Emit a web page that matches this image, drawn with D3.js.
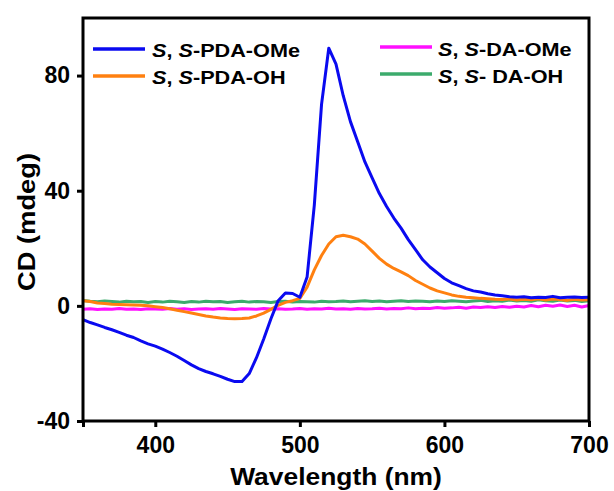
<!DOCTYPE html>
<html>
<head>
<meta charset="utf-8">
<script src="https://cdn.jsdelivr.net/npm/d3@7"></script>
<style>
  body { margin: 0; background: #fff; }
  text { font-family: "Liberation Sans", Arial, sans-serif; font-weight: bold; }
</style>
</head>
<body>
<svg id="chart"></svg>
<script>
// wavelength grid (nm), 5 nm steps
const wavelengths = d3.range(350, 701, 5);

const pdaOMe = [-4.8, -5.8, -6.6, -7.5, -8.3, -9.2, -10.2, -11.0, -12.2, -13.2,
  -14.0, -15.0, -16.2, -17.5, -19.0, -20.5, -21.8, -22.8, -23.6, -24.5,
  -25.5, -26.3, -26.3, -23.5, -18.0, -11.5, -4.5, 1.8, 4.5, 4.3,
  3.0, 10.0, 35.0, 70.0, 89.5, 84.0, 73.0, 64.0, 57.0, 50.0,
  44.5, 39.0, 34.5, 30.5, 27.0, 23.0, 19.5, 16.0, 13.5, 11.5,
  9.5, 8.0, 7.0, 6.0, 5.2, 4.8, 4.2, 3.8, 3.5, 3.2,
  3.0, 3.2, 2.8, 3.0, 2.9, 3.3, 2.8, 3.0, 3.1, 2.9, 3.0];

const pdaOH = [1.8, 1.5, 1.0, 0.8, 0.6, 0.5, 0.4, 0.3, 0.2, 0.0,
  -0.3, -0.6, -1.0, -1.5, -2.0, -2.5, -3.0, -3.5, -3.9, -4.2,
  -4.4, -4.5, -4.4, -4.2, -3.5, -2.5, -1.2, 0.2, 1.2, 1.8,
  2.6, 6.5, 12.5, 17.5, 21.5, 24.0, 24.5, 24.0, 23.2, 21.5,
  19.0, 16.5, 14.5, 13.0, 11.8, 10.5, 8.8, 7.5, 6.2, 5.2,
  4.5, 3.8, 3.3, 3.0, 2.8, 2.6, 2.5, 2.3, 2.2, 2.4,
  2.0, 2.3, 2.1, 2.5, 2.0, 2.4, 2.2, 1.9, 2.3, 2.0, 2.1];

const daOMe = [-1.2, -1.0, -1.3, -1.1, -1.2, -0.9, -1.2, -1.1, -1.3, -1.0,
  -1.1, -1.2, -0.9, -1.2, -1.0, -1.3, -1.1, -1.0, -1.2, -0.9,
  -1.1, -1.3, -1.0, -1.1, -1.2, -0.9, -1.1, -1.0, -1.2, -1.1,
  -0.9, -1.2, -1.0, -1.1, -0.8, -1.1, -1.0, -1.2, -0.9, -1.1,
  -1.0, -0.8, -1.1, -0.9, -1.0, -0.7, -1.0, -0.8, -0.9, -0.6,
  -0.8, -0.7, -0.5, -0.8, -0.4, -0.6, -0.3, -0.6, -0.2, -0.5,
  -0.1, -0.4, 0.1, -0.3, 0.2, -0.1, 0.3, -0.2, 0.2, -0.4, 0.1];

const daOH = [1.9, 1.6, 1.4, 1.7, 1.5, 1.3, 1.6, 1.4, 1.5, 1.2,
  1.5, 1.3, 1.6, 1.4, 1.2, 1.5, 1.3, 1.6, 1.4, 1.5,
  1.2, 1.4, 1.6, 1.3, 1.5, 1.4, 1.2, 1.5, 1.6, 1.3,
  1.5, 1.4, 1.3, 1.6, 1.4, 1.5, 1.7, 1.4, 1.6, 1.8,
  1.5, 1.7, 1.4, 1.6, 1.8, 1.5, 1.7, 1.6, 1.4, 1.7,
  1.5, 1.8, 1.6, 1.4, 1.7, 1.9, 1.5, 1.8, 1.6, 2.0,
  1.7, 1.9, 1.6, 2.1, 1.8, 1.6, 2.0, 1.7, 1.9, 1.5, 1.8];

const seriesNames = ["PDA-OMe", "PDA-OH", "DA-OMe", " DA-OH"];
const seriesColors = ["#0a0af0", "#ff8010", "#ff10ff", "#3cab6c"];
const seriesValues = [pdaOMe, pdaOH, daOMe, daOH];

const xTicks = [400, 500, 600, 700];
const yTicks = [-40, 0, 40, 80];

let W = 614, H = 491;
let margin = {top: 18, right: 25, bottom: 70, left: 83};
let width = W - margin.left - margin.right;
let height = H - margin.top - margin.bottom;

let svg = d3.select("#chart")
  .attr("width", W)
  .attr("height", H);

let g = svg.append("g")
  .attr("transform", "translate(" + margin.left + "," + margin.top + ")");

let x = d3.scaleLinear().domain([350, 700]).range([0, width]);
let y = d3.scaleLinear().domain([-40, 100]).range([height, 0]);

let line = d3.line()
  .x(function(d) { return x(d[0]); })
  .y(function(d) { return y(d[1]); });

// draw order: magenta, green, orange, blue on top
[2, 3, 1, 0].forEach(function(i) {
  let pts = wavelengths.map(function(w, k) { return [w, seriesValues[i][k]]; });
  g.append("path")
    .datum(pts)
    .attr("fill", "none")
    .attr("stroke", seriesColors[i])
    .attr("stroke-width", 3)
    .attr("stroke-linejoin", "round")
    .attr("d", line);
});

// frame
g.append("rect")
  .attr("width", width)
  .attr("height", height)
  .attr("fill", "none")
  .attr("stroke", "#000")
  .attr("stroke-width", 3);

// x axis
let xAxis = g.append("g")
  .attr("transform", "translate(0," + height + ")")
  .call(d3.axisBottom(x).tickValues([350].concat(xTicks)).tickSize(6).tickPadding(10)
    .tickFormat(function(d) { return d == 350 ? "" : String(d); }));
xAxis.select(".domain").remove();
xAxis.selectAll("line").attr("stroke-width", 3);
xAxis.selectAll("text").attr("font-size", 23).attr("fill", "#000")
  .style("font-family", "Liberation Sans, Arial, sans-serif").style("font-weight", "bold");

// y axis (plain hyphen for negatives, like the original)
let yAxis = g.append("g")
  .call(d3.axisLeft(y).tickValues(yTicks).tickSize(6).tickPadding(7)
    .tickFormat(function(d) { return String(d); }));
yAxis.select(".domain").remove();
yAxis.selectAll("line").attr("stroke-width", 3);
yAxis.selectAll("text").attr("font-size", 23).attr("fill", "#000")
  .style("font-family", "Liberation Sans, Arial, sans-serif").style("font-weight", "bold");

// axis titles (reference text is a bit wider than the font, so stretch it)
svg.append("text")
  .attr("transform", "translate(" + (margin.left + width / 2) + ",485) scale(1.1,1)")
  .attr("text-anchor", "middle")
  .attr("font-size", 24)
  .text("Wavelength (nm)");

svg.append("text")
  .attr("transform", "translate(35,222) rotate(-90) scale(1.14,1)")
  .attr("text-anchor", "middle")
  .attr("font-size", 24)
  .text("CD (mdeg)");

// legend
let legendPos = [[93, 49], [93, 76], [380, 47], [380, 74]];
let legendText = [[152, 57], [152, 84], [438, 56], [438, 83]];
seriesNames.forEach(function(name, i) {
  let p = legendPos[i];
  svg.append("line")
    .attr("x1", p[0]).attr("x2", p[0] + 52)
    .attr("y1", p[1]).attr("y2", p[1])
    .attr("stroke", seriesColors[i])
    .attr("stroke-width", 3.5);
  let q = legendText[i];
  let t = svg.append("text")
    .attr("transform", "translate(" + q[0] + "," + q[1] + ") scale(1.14,1)")
    .attr("font-size", 19);
  t.append("tspan").attr("font-style", "italic").text("S");
  t.append("tspan").text(", ");
  t.append("tspan").attr("font-style", "italic").text("S");
  t.append("tspan").text("-" + name);
});
</script>
</body>
</html>
